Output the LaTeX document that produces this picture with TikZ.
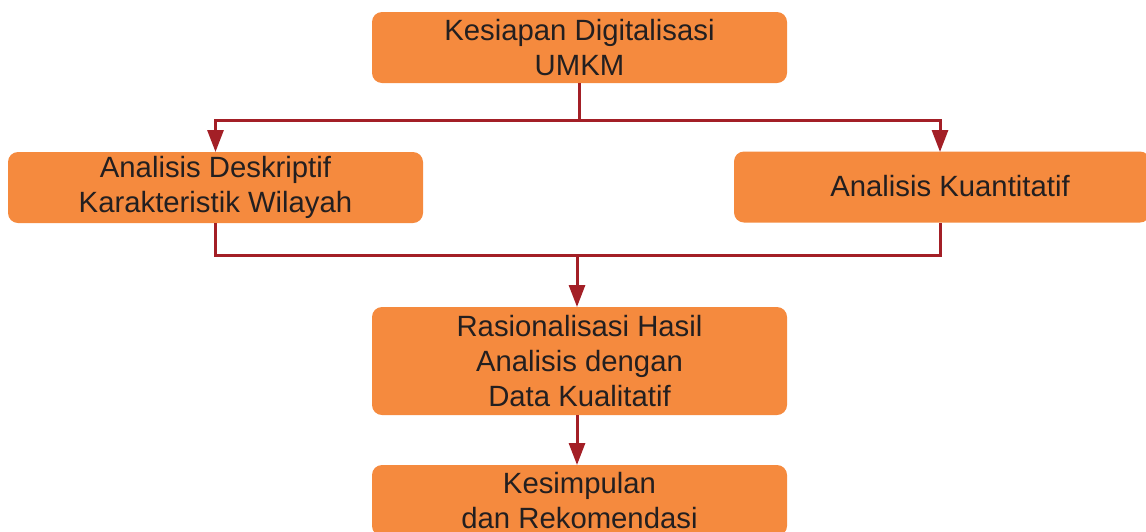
\documentclass[tikz,border=0pt]{standalone}
\usepackage{fontspec}
\setmainfont{Liberation Sans}
\usetikzlibrary{arrows.meta,calc}
\definecolor{boxorange}{HTML}{F58A3E}
\definecolor{wirered}{HTML}{A31F26}
\definecolor{txt}{HTML}{231F20}
\tikzset{
  x=1pt,y=1pt,
  lbl/.style={text=txt,align=center,font=\fontsize{29.3}{35}\selectfont},
  box/.style={lbl,fill=boxorange,draw=none,rounded corners=10pt,inner sep=0pt,minimum width=415pt},
  wire/.style={draw=wirered,line width=3pt},
  arr/.style={wire,-{Triangle[width=16pt,length=22pt]}}
}
\begin{document}
\begin{tikzpicture}
\useasboundingbox (0,0) rectangle (1146,-531);
\clip (0,0) rectangle (1146,-531);
\node[box,minimum height=71pt] (top) at (579.5,-47.5) {Kesiapan Digitalisasi\\UMKM};
\node[box,minimum height=71pt] (left) at (215.5,-187.5) {Analisis Deskriptif\\Karakteristik Wilayah};
\node[box,minimum height=71pt,minimum width=416pt] (right) at (942,-187) {};
\node[lbl] (rightlbl) at (950,-186) {Analisis Kuantitatif};
\node[box,minimum height=108pt] (mid) at (579.5,-361) {Rasionalisasi Hasil\\Analisis dengan\\Data Kualitatif};
\node[box,minimum height=71pt] (bot) at (579.5,-500.5) {Kesimpulan\\dan Rekomendasi};
\coordinate (h1) at (0,-120);
\coordinate (h2) at (0,-255);
\coordinate (lt) at (215.5,-152);
\coordinate (rt) at (940,-152);
\coordinate (lb) at (215.5,-223);
\coordinate (rb) at (940,-222.5);
\coordinate (mt) at (577,-307);
\coordinate (bt) at (577,-465);
\coordinate (ms) at (577,-415);
\draw[wire] (top.south) -- (top.south |- h1);
\draw[arr] (top.south |- h1) -| (lt);
\draw[arr] (top.south |- h1) -| (rt);
\draw[wire] (lb) -- (lb |- h2) -- (rb |- h2) -- (rb);
\draw[arr] (mt |- h2) -- (mt);
\draw[arr] (ms) -- (bt);
\end{tikzpicture}
\end{document}
